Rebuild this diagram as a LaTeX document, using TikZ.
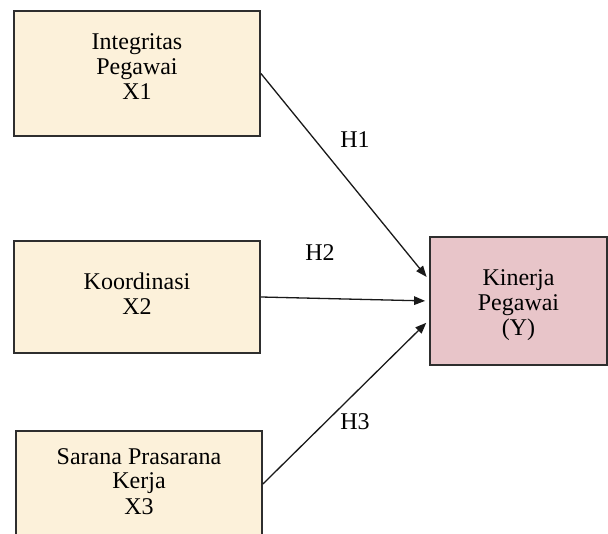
\documentclass[tikz,border=0pt]{standalone}
\usepackage{fontspec}
\setmainfont{Liberation Serif}
\usetikzlibrary{arrows.meta,calc}
\definecolor{beige}{HTML}{FCF1DA}
\definecolor{rosy}{HTML}{E8C5C9}
\definecolor{edge}{HTML}{2E2E2E}
\newsavebox\linesbox
\newlength\lnht
\newlength\lndp
\newcommand{\boxlines}[2]{\sbox\linesbox{\begin{tabular}{@{}c@{}}#2\end{tabular}}%
  \setlength\lnht{\ht\linesbox}\setlength\lndp{\dp\linesbox}%
  \raisebox{#1}[\lnht][\lndp]{\usebox\linesbox}}
\tikzset{
  varbox/.style={draw=edge, line width=1.8pt, rectangle, align=center,
    font=\fontsize{24}{25}\selectfont, inner sep=0pt},
  xbox/.style={varbox, fill=beige},
  ybox/.style={varbox, fill=rosy},
  link/.style={draw=black!90, line width=1.3pt, -{Triangle[length=11pt,width=8.5pt]}, shorten >=4pt},
  hlabel/.style={font=\fontsize{24}{25}\selectfont, inner sep=0pt}
}
\begin{document}
\begin{tikzpicture}[x=1pt,y=-1pt]
\useasboundingbox (0,0) rectangle (608,534);
\clip (0,0) rectangle (608,534);
\fill[white] (0,0) rectangle (608,534);
\node[xbox, minimum width=246pt, minimum height=125pt] (b1) at (137,73.5) {\boxlines{4pt}{Integritas\\Pegawai\\X1}};
\node[xbox, minimum width=246pt, minimum height=112pt] (b2) at (137,297) {\boxlines{0pt}{Koordinasi\\X2}};
\node[xbox, minimum width=246pt, minimum height=106pt] (b3) at (139,484) {\boxlines{0pt}{Sarana Prasarana\\Kerja\\X3}};
\node[ybox, minimum width=177pt, minimum height=128pt] (ky) at (518.5,301) {\boxlines{-5pt}{Kinerja\\Pegawai\\(Y)}};
\coordinate (t1) at ($(ky.west)+(0,-21)$);
\coordinate (t3) at ($(ky.west)+(0,19)$);
\draw[link] (b1.east) -- (t1);
\draw[link] (b2.east) -- (ky.west);
\draw[link] (b3.east) -- (t3);
\node[hlabel] (h1) at (355,140) {H1};
\node[hlabel] (h2) at (320,253) {H2};
\node[hlabel] (h3) at (355,422) {H3};
\end{tikzpicture}
\end{document}
